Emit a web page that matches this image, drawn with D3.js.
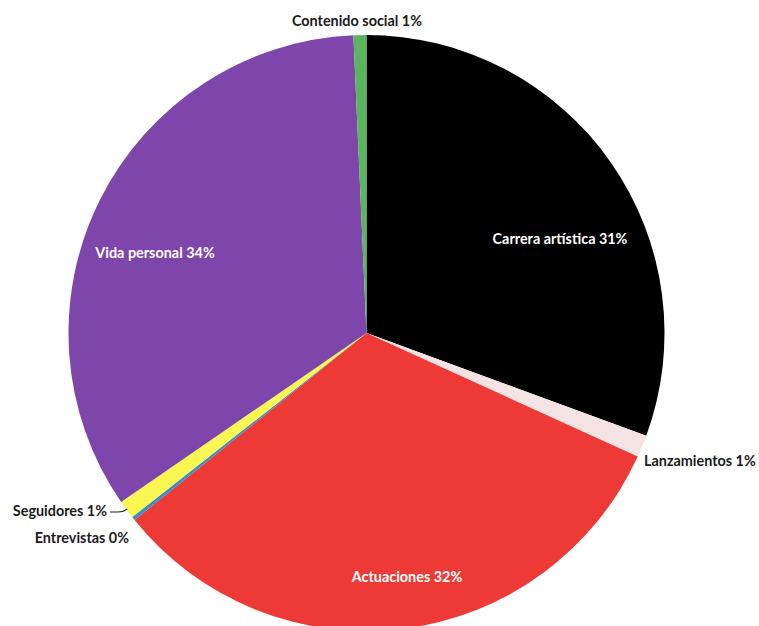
<!DOCTYPE html>
<html>
<head>
<meta charset="utf-8">
<script src="https://cdn.jsdelivr.net/npm/d3@7"></script>
<style>
  html, body { margin: 0; padding: 0; background: #ffffff; }
  svg { display: block; }
  text { font-family: Lato, "Open Sans", sans-serif; font-weight: 700; font-size: 14.4px; }
</style>
</head>
<body>
<svg id="chart" width="759" height="626"></svg>
<script>
// Topics, in clockwise order starting at 12 o'clock
const categories = [
  "Carrera artística",
  "Lanzamientos",
  "Actuaciones",
  "Entrevistas",
  "Seguidores",
  "Vida personal",
  "Contenido social"
];
// Share of each topic (%)
const shares = [30.6, 1.2, 32.4, 0.2, 1.0, 33.9, 0.7];
const sliceColors = ["#000000", "#f3e3e3", "#ee3a36", "#3b8fc7", "#fbf651", "#7e45ab", "#5bb55f"];

// Label placement: [x, y, anchor, text colour]
const labelPlacement = [
  [560, 240, "middle", "#ffffff"],
  [644, 462, "start", "#1b1b1b"],
  [407, 578, "middle", "#ffffff"],
  [129, 539, "end", "#1b1b1b"],
  [107, 512, "end", "#1b1b1b"],
  [155, 254, "middle", "#ffffff"],
  [357, 22, "middle", "#1b1b1b"]
];

const svg = d3.select("#chart");
const cx = 366.5, cy = 333, radius = 298;

const data = categories.map((c, i) => ({ name: c, value: shares[i], color: sliceColors[i], pos: labelPlacement[i] }));

const pie = d3.pie().value(d => d.value).sort(null);
const arc = d3.arc().innerRadius(0).outerRadius(radius);

const g = svg.append("g").attr("transform", `translate(${cx},${cy})`);

g.selectAll("path.slice")
  .data(pie(data))
  .join("path")
  .attr("class", "slice")
  .attr("d", arc)
  .attr("fill", d => d.data.color);

// Leader line for the small "Seguidores" slice
const seg = pie(data)[4];
const segAngle = (seg.startAngle + seg.endAngle) / 2;
const ex = cx + Math.sin(segAngle) * (radius - 1);
const ey = cy - Math.cos(segAngle) * (radius - 1);
svg.append("path")
  .attr("d", `M${110},${512} L${ex - 9},${512} Q${ex - 4},${512} ${ex},${ey}`)
  .attr("fill", "none")
  .attr("stroke", "#222")
  .attr("stroke-width", 1.2);

svg.selectAll("text.lbl")
  .data(data)
  .join("text")
  .attr("class", "lbl")
  .attr("x", d => d.pos[0])
  .attr("y", d => d.pos[1])
  .attr("text-anchor", d => d.pos[2])
  .attr("dominant-baseline", "middle")
  .attr("fill", d => d.pos[3])
  .text(d => `${d.name} ${Math.round(d.value)}%`);
</script>
</body>
</html>
